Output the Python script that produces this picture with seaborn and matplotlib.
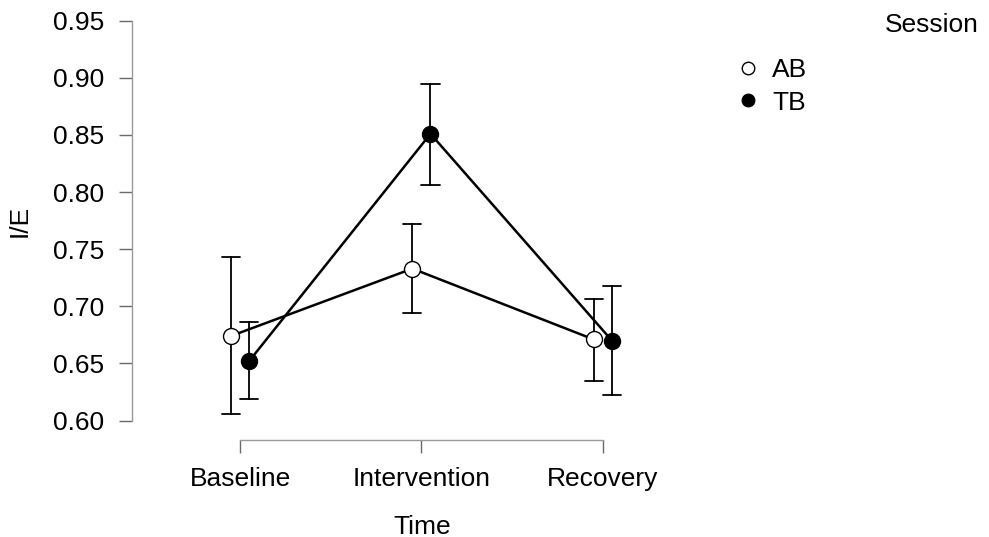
import matplotlib
matplotlib.use("Agg")

import matplotlib.pyplot as plt
from matplotlib.lines import Line2D
import pandas as pd
import seaborn as sns

# data (mean with lower / upper error bar ends)
time_points = ["Baseline", "Intervention", "Recovery"]
sessions = ["AB", "TB"]

ab_mean = [0.674, 0.733, 0.671]
ab_lower = [0.606, 0.694, 0.635]
ab_upper = [0.743, 0.772, 0.706]

tb_mean = [0.652, 0.851, 0.670]
tb_lower = [0.619, 0.806, 0.622]
tb_upper = [0.686, 0.895, 0.718]

y_ticks = [0.60, 0.65, 0.70, 0.75, 0.80, 0.85, 0.90, 0.95]

# three rows per cell: median gives the mean, 100% interval gives the bar ends
rows = []
for session, lo, mid, hi in [("AB", ab_lower, ab_mean, ab_upper),
                             ("TB", tb_lower, tb_mean, tb_upper)]:
    for i, t in enumerate(time_points):
        for v in (lo[i], mid[i], hi[i]):
            rows.append({"Time": t, "Session": session, "I/E": v})
df = pd.DataFrame(rows)

sns.set_style("ticks")
plt.rcParams["font.family"] = ["Liberation Sans", "DejaVu Sans"]
plt.rcParams["text.color"] = "black"
plt.rcParams["axes.labelcolor"] = "black"

fig = plt.figure(figsize=(9.89, 5.37), dpi=100)
ax = fig.add_axes([131.7 / 989, 1 - 440 / 537, 580 / 989, 419.3 / 537])

sns.pointplot(
    data=df, x="Time", y="I/E", hue="Session",
    order=time_points, hue_order=sessions,
    estimator="median", errorbar=("pi", 100),
    dodge=0.1, capsize=0.1,
    palette=["black", "black"], markers="o", linestyles="-",
    err_kws={"linewidth": 1.3},
    markersize=11.5, linewidth=1.8, markeredgewidth=1,
    legend=False, ax=ax,
)

marker_lines = [ln for ln in ax.lines if ln.get_marker() == "o"]
for ln in ax.lines:
    ln.set_zorder(2)
for ln in marker_lines:
    ln.set_zorder(3)
    ln.set_markeredgecolor("black")
marker_lines[0].set_markerfacecolor("white")

ax.set_xlim(-0.597, 2.6)
ax.set_ylim(0.583, 0.95)
ax.set_yticks(y_ticks)
ax.set_yticklabels([f"{v:.2f}" for v in y_ticks])

sns.despine(ax=ax)
ax.spines["left"].set_bounds(0.60, 0.95)
ax.spines["bottom"].set_bounds(0, 2)
for side in ("left", "bottom"):
    ax.spines[side].set_color("#9a9a9a")
    ax.spines[side].set_linewidth(1.0)
ax.tick_params(axis="both", length=9.5, width=1.0, color="#6a6a6a",
               labelsize=19, pad=10, labelcolor="black")

ax.set_xlabel("Time", fontsize=19, labelpad=17)
ax.set_ylabel("I/E", fontsize=19)
ax.yaxis.set_label_coords(-0.172, 0.523)

handles = [
    Line2D([], [], marker="o", ls="none", mfc="white", mec="black", ms=9, mew=1),
    Line2D([], [], marker="o", ls="none", mfc="black", mec="black", ms=9, mew=1),
]
fig.legend(handles, sessions, loc="upper left",
           bbox_to_anchor=(735 / 989, 1 - 58 / 537),
           frameon=False, fontsize=19, handlelength=1.0,
           handletextpad=0.4, labelspacing=0.33,
           borderpad=0, borderaxespad=0)
fig.text(885 / 989, 1 - 25 / 537, "Session", fontsize=19, va="center", ha="left")

fig.savefig("out.png", dpi=100)
plt.close(fig)
